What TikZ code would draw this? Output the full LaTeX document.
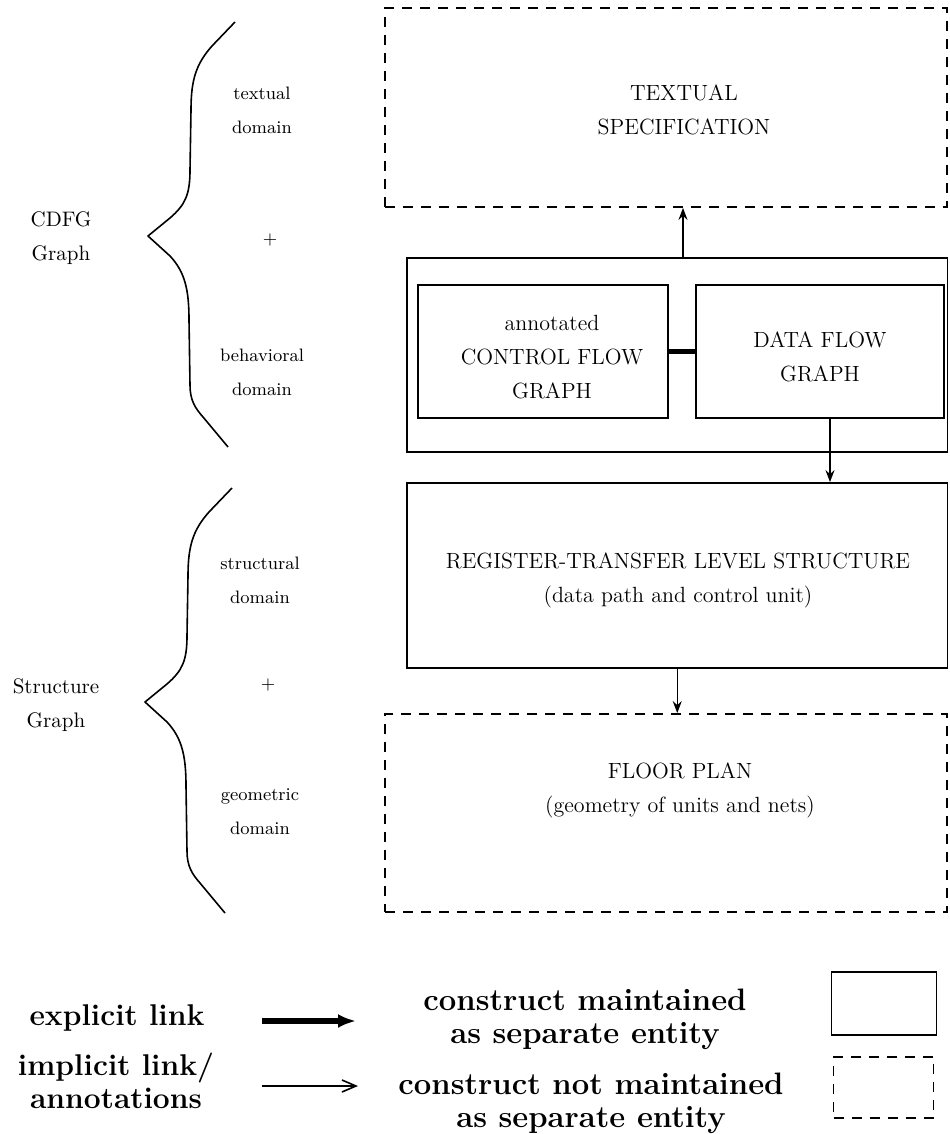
\documentclass[tikz,border=0pt]{standalone}
\usetikzlibrary{arrows.meta}
\begin{document}
\begin{tikzpicture}[x=0.5pt,y=-0.5pt,
  box/.style={draw, line width=0.9pt, inner sep=0pt},
  dbox/.style={box, dash pattern=on 5pt off 4pt},
  lbl/.style={font=\fontsize{11}{17}\selectfont, align=center, inner sep=0pt},
  side/.style={font=\fontsize{10.5}{17}\selectfont, align=center, inner sep=0pt},
  dom/.style={font=\fontsize{9}{17}\selectfont, align=center, inner sep=0pt},
  leg/.style={font=\fontsize{15}{16.5}\selectfont\bfseries, align=center, inner sep=0pt},
  legr/.style={font=\fontsize{15.5}{16.5}\selectfont\bfseries, align=center, inner sep=0pt},
  link/.style={line width=0.7pt, -{Stealth[length=6pt,width=4.5pt,inset=2pt]}},
  brace/.style={line width=0.8pt, line join=round},
  pics/curly/.style={code={
    \draw[brace] (87,-214) -- (64,-190) .. controls (48,-172) and (43,-156) .. (43,-126)
      -- (42,-66) .. controls (42,-41) and (37,-31) .. (22,-18) -- (0,0)
      -- (22,20) .. controls (37,36) and (41,54) .. (41,84)
      -- (42,149) .. controls (42,164) and (47,172) .. (55,181) -- (80,211);
  }}]

\useasboundingbox (0,0) rectangle (949,1134);

% ---- model boxes ----
\node[dbox, minimum width=281pt, minimum height=99.5pt] (spec) at (666,107.5) {};
\node[lbl] (spectxt) at (684,110) {TEXTUAL\\SPECIFICATION};

\node[box, minimum width=270.25pt, minimum height=97pt] (cdfg) at (677.25,355) {};
\node[box, minimum width=125pt, minimum height=66.5pt] (cfg) at (543,351.5) {};
\node[lbl] (cfgtxt) at (552,357) {annotated\\CONTROL FLOW\\GRAPH};
\node[box, minimum width=124pt, minimum height=66.5pt] (dfg) at (820,351.5) {};
\node[lbl] (dfgtxt) at (820,357) {DATA FLOW\\GRAPH};

\node[box, minimum width=270.25pt, minimum height=92.5pt] (rtl) at (677.25,575.5) {};
\node[lbl] (rtltxt) at (678,580) {REGISTER-TRANSFER LEVEL STRUCTURE\\(data path and control unit)};

\node[dbox, minimum width=281pt, minimum height=99pt] (floor) at (666,813) {};
\node[lbl] (floortxt) at (680,790) {FLOOR PLAN\\(geometry of units and nets)};

% ---- links ----
\draw[line width=2.5pt] (cfg.east) -- (dfg.west);
\coordinate (up) at (683,258);
\draw[link] (up) -- (up |- spec.south);
\coordinate (dn) at (830,418);
\draw[link] (dn) -- (dn |- rtl.north);
\draw[link] (rtl.south) -- (rtl.south |- floor.north);

% ---- domain braces and labels ----
\pic at (148,236) {curly};
\pic at (145,702) {curly};
\node[side] (cdfglbl) at (61,238) {CDFG\\Graph};
\node[side] (structlbl) at (56,705) {Structure\\Graph};
\node[dom] (textual) at (262,110) {textual\\domain};
\node[dom] (plus1) at (270,240) {+};
\node[dom] (behav) at (262,372) {behavioral\\domain};
\node[dom] (structural) at (260,580) {structural\\domain};
\node[dom] (plus2) at (268,685) {+};
\node[dom] (geom) at (260,812) {geometric\\domain};

% ---- legend ----
\node[leg] (explicit) at (117,1018) {explicit link};
\node[leg] (implicit) at (116,1081) {implicit link/\\annotations};
\coordinate (e1) at (262,1021);
\coordinate (e2) at (356,1021);
\draw[line width=3pt, -{Latex[length=9pt,width=7pt]}] (e1) -- (e2);
\coordinate (i1) at (262,1086);
\coordinate (i2) at (358,1086);
\draw[line width=0.8pt, -{Straight Barb[length=7pt,width=6pt]}] (i1) -- (i2);

\node[legr] (maint) at (585,1019) {construct maintained\\as separate entity};
\node[legr] (notmaint) at (591,1103) {construct not maintained\\as separate entity};
\node[box, minimum width=52.5pt, minimum height=31.5pt] (solidkey) at (884,1003.5) {};
\node[dbox, minimum width=50pt, minimum height=30.5pt] (dashkey) at (883.5,1087.5) {};
\end{tikzpicture}
\end{document}
